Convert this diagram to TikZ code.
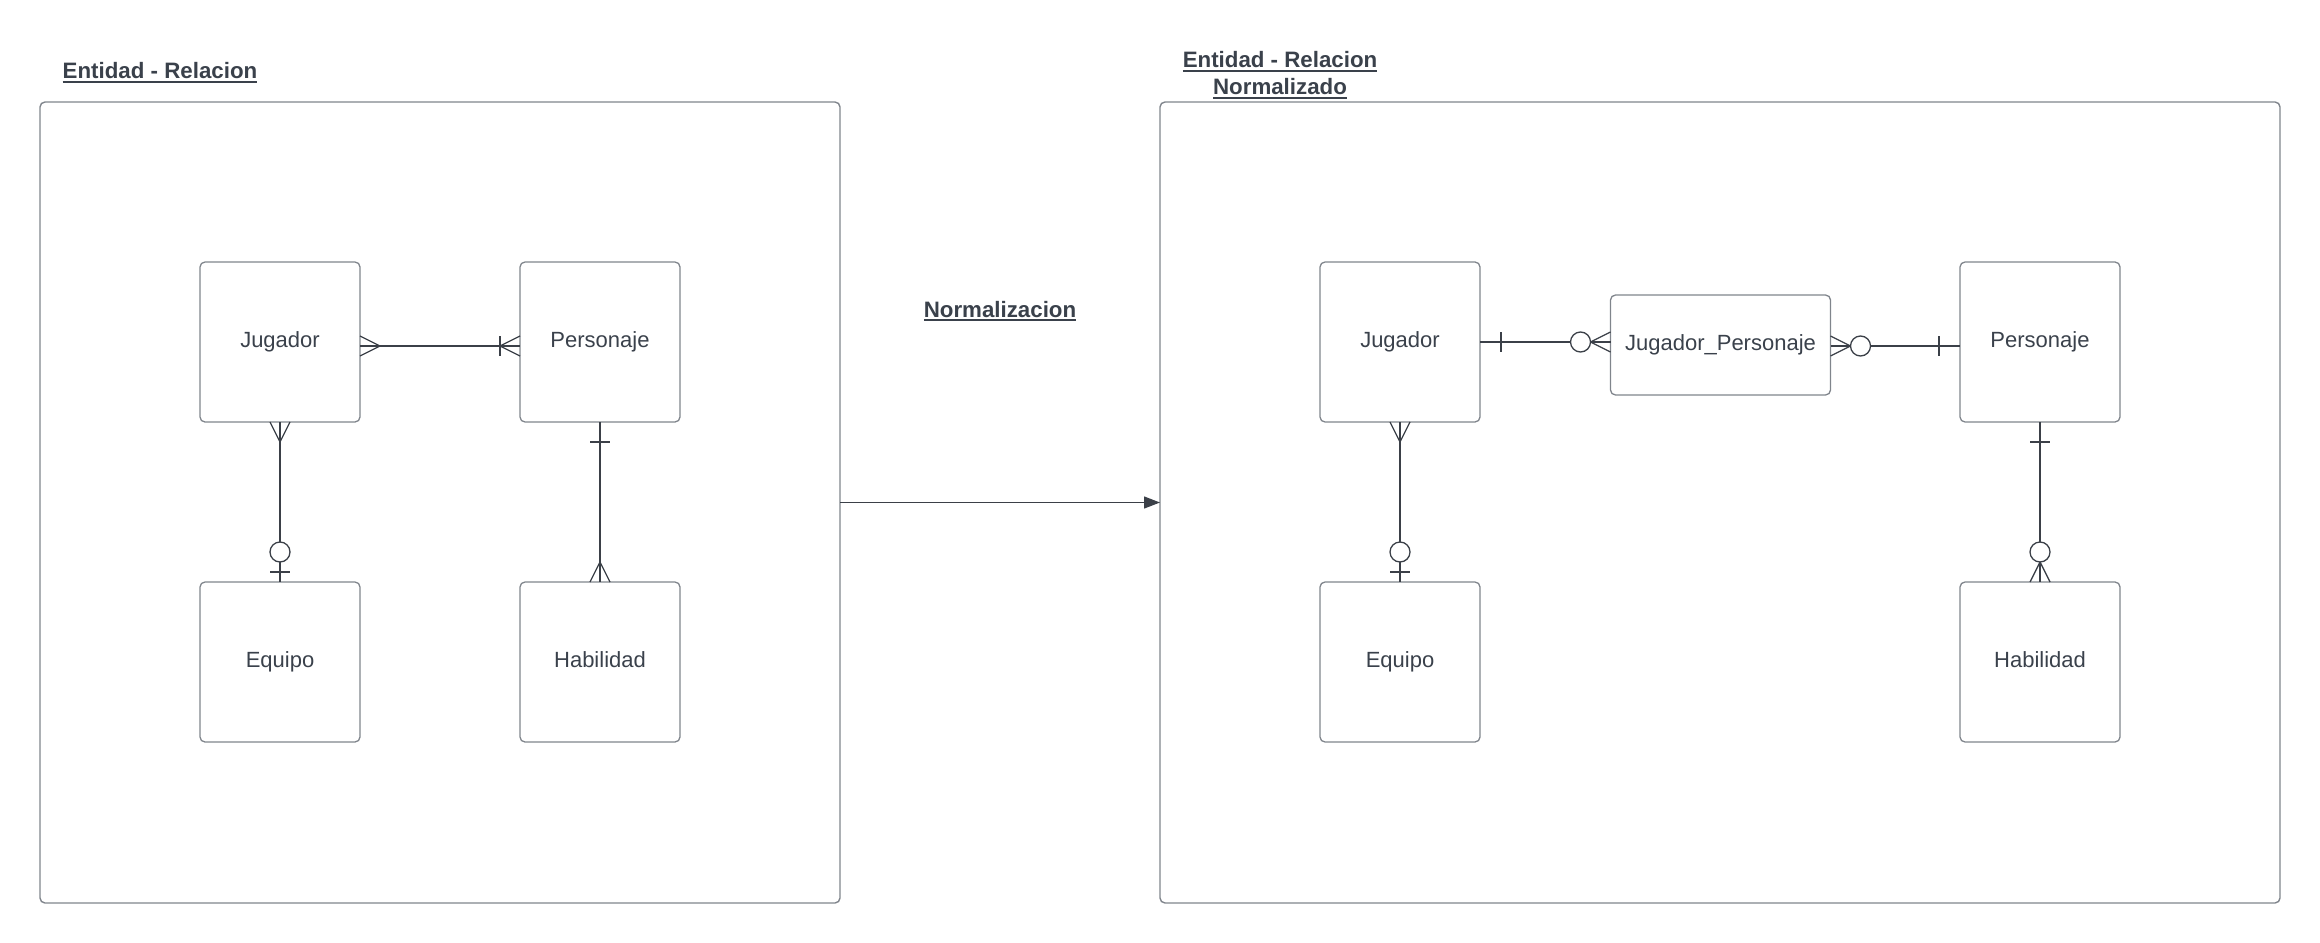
\documentclass[tikz,border=0pt]{standalone}
\usepackage{fontspec}
\setmainfont{Liberation Sans}
\usetikzlibrary{calc,arrows.meta}
\definecolor{linec}{HTML}{3B4048}
\definecolor{boxgray}{HTML}{80858C}
\definecolor{txt}{HTML}{3A414B}
\newcommand\myul[1]{\setbox0\hbox{#1}\rlap{\color{txt}\rule[-4pt]{\wd0}{2pt}}\box0}
\tikzset{
  ent/.style={draw=boxgray, line width=1.3pt, rounded corners=5pt, minimum width=160pt, minimum height=160pt,
    inner sep=0pt, outer sep=0pt, font=\fontsize{22}{26}\selectfont, text=txt, text height=1.0em, text depth=0em},
  frm/.style={draw=boxgray, line width=1.4pt, rounded corners=5pt, inner sep=0pt, outer sep=0pt},
  conn/.style={draw=linec, line width=1.3pt},
  circ/.style={draw=linec, line width=1.3pt, fill=white},
  ttl/.style={font=\bfseries\fontsize{22.3}{27}\selectfont, text=txt, align=center, inner sep=0pt},
}
\begin{document}
\begin{tikzpicture}[x=1pt,y=-1pt]
\useasboundingbox (0,0) rectangle (2320,942);
% frames
\node[frm, minimum width=800pt, minimum height=801pt] (F1) at (440,502.5) {};
\node[frm, minimum width=1120pt, minimum height=801pt] (F2) at (1720,502.5) {};
% titles
\node[ttl, anchor=base] (T1) at (160,78.5) {\myul{Entidad - Relacion}};
\node[ttl] (T2) at (1280,75) {\myul{Entidad - Relacion}\\\myul{Normalizado}};
\node[ttl, anchor=base] (T3) at (1000,317) {\myul{Normalizacion}};
% arrow
\draw[conn, -{Triangle[length=16pt,width=12pt]}] (F1.east) -- (F2.west);
% left entities
\node[ent] (J1) at (280,342) {Jugador};
\node[ent] (P1) at (600,342) {Personaje};
\node[ent] (E1) at (280,662) {Equipo};
\node[ent] (H1) at (600,662) {Habilidad};
% right entities
\node[ent] (J2) at (1400,342) {Jugador};
\node[ent, minimum width=220pt, minimum height=100pt] (JP) at (1720.5,345) {Jugador\_Personaje};
\node[ent] (P2) at (2040,342) {Personaje};
\node[ent] (E2) at (1400,662) {Equipo};
\node[ent] (H2) at (2040,662) {Habilidad};

% ---- left: Jugador - Personaje
\coordinate (a1) at ($(J1.east)+(0,4)$);
\coordinate (b1) at ($(P1.west)+(0,4)$);
\draw[conn] (a1) -- (b1);
\draw[conn] ($(a1)+(0,-10)$) -- ($(a1)+(20,0)$) -- ($(a1)+(0,10)$);
\draw[conn] ($(b1)+(0,-10)$) -- ($(b1)+(-20,0)$) -- ($(b1)+(0,10)$);
\draw[conn] ($(b1)+(-20,-10)$) -- ($(b1)+(-20,10)$);
% ---- left: Jugador - Equipo
\draw[conn] (J1.south) -- (E1.north);
\draw[conn] ($(J1.south)+(-10,0)$) -- ($(J1.south)+(0,20)$) -- ($(J1.south)+(10,0)$);
\draw[conn] ($(E1.north)+(-10,-10)$) -- ($(E1.north)+(10,-10)$);
\draw[circ] ($(E1.north)+(0,-30)$) circle[radius=10pt];
% ---- left: Personaje - Habilidad
\draw[conn] (P1.south) -- (H1.north);
\draw[conn] ($(P1.south)+(-10,20)$) -- ($(P1.south)+(10,20)$);
\draw[conn] ($(H1.north)+(-10,0)$) -- ($(H1.north)+(0,-20)$) -- ($(H1.north)+(10,0)$);

% ---- right: Jugador - Jugador_Personaje
\coordinate (c1) at (J2.east -| JP.west);
\draw[conn] (J2.east) -- (c1);
\draw[conn] ($(J2.east)+(21,-10)$) -- ($(J2.east)+(21,10)$);
\draw[conn] ($(c1)+(0,-10)$) -- ($(c1)+(-20,0)$) -- ($(c1)+(0,10)$);
\draw[circ] ($(c1)+(-30,0)$) circle[radius=10pt];
% ---- right: Jugador_Personaje - Personaje
\coordinate (d2) at ($(P2.west)+(0,4)$);
\coordinate (d1) at (d2 -| JP.east);
\draw[conn] (d1) -- (d2);
\draw[conn] ($(d1)+(0,-10)$) -- ($(d1)+(20,0)$) -- ($(d1)+(0,10)$);
\draw[circ] ($(d1)+(30,0)$) circle[radius=10pt];
\draw[conn] ($(d2)+(-21,-10)$) -- ($(d2)+(-21,10)$);
% ---- right: Jugador - Equipo
\draw[conn] (J2.south) -- (E2.north);
\draw[conn] ($(J2.south)+(-10,0)$) -- ($(J2.south)+(0,20)$) -- ($(J2.south)+(10,0)$);
\draw[conn] ($(E2.north)+(-10,-10)$) -- ($(E2.north)+(10,-10)$);
\draw[circ] ($(E2.north)+(0,-30)$) circle[radius=10pt];
% ---- right: Personaje - Habilidad
\draw[conn] (P2.south) -- (H2.north);
\draw[conn] ($(P2.south)+(-10,20)$) -- ($(P2.south)+(10,20)$);
\draw[conn] ($(H2.north)+(-10,0)$) -- ($(H2.north)+(0,-20)$) -- ($(H2.north)+(10,0)$);
\draw[circ] ($(H2.north)+(0,-30)$) circle[radius=10pt];
\end{tikzpicture}
\end{document}
